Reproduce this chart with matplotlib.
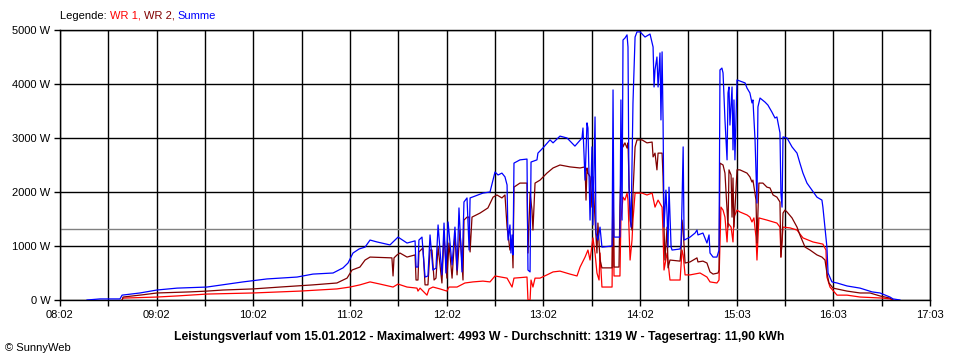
import matplotlib
matplotlib.use("Agg")
import matplotlib.pyplot as plt
import numpy as np

plt.rcParams['font.family'] = ['Liberation Sans', 'DejaVu Sans']

# time in minutes after 08:02, power in W
summe_t = [16.8, 24.9, 37.3, 38.6, 49.7, 60.3, 72.8, 91.4, 113.8, 128.7, 147.4, 157.3, 169.8, 176.0, 179.1,
           182.2, 186.0, 189.7, 192.8, 197.1, 205.2, 210.2, 215.8, 220.8, 221.4, 222.6, 223.2, 225.1, 227.0,
           228.8, 230.1, 231.9, 233.8, 235.1, 237.5, 238.8, 240.0, 241.3, 243.8, 245.6, 246.9, 248.1, 250.0,
           251.2, 253.1, 254.4, 255.0, 263.0, 267.4, 270.5, 272.4, 274.8, 276.7, 278.0, 278.6, 279.8, 280.4,
           281.1, 281.7, 282.3, 286.0, 290.4, 291.0, 292.3, 292.9, 296.6, 297.2, 300.3, 304.7, 306.6, 310.9,
           315.3, 320.2, 324.6, 325.2, 326.5, 327.7, 328.3, 329.6, 330.8, 331.4, 332.7, 333.3, 334.5, 335.8,
           337.0, 343.3, 343.9, 344.5, 348.2, 348.8, 349.5, 350.1, 351.3, 352.6, 353.2, 353.8, 355.1, 356.3,
           357.6, 358.8, 360.7, 363.8, 366.9, 368.8, 369.4, 370.0, 371.2, 371.9, 373.1, 373.7, 374.4, 375.0,
           375.6, 376.8, 377.5, 378.1, 378.7, 380.0, 380.6, 385.6, 386.2, 386.8, 387.5, 388.1, 391.8, 394.9,
           396.1, 396.7, 399.8, 402.3, 403.6, 404.2, 406.1, 408.5, 409.8, 410.4, 411.6, 412.3, 413.5, 414.8,
           415.4, 416.0, 416.6, 417.9, 418.5, 419.1, 419.7, 421.0, 426.0, 427.2, 429.0, 430.3, 430.9, 432.2,
           433.4, 434.0, 435.3, 438.4, 440.2, 442.7, 444.6, 445.8, 446.5, 447.7, 448.3, 449.0, 449.6, 452.1,
           455.2, 458.3, 460.1, 462.0, 464.5, 467.6, 470.7, 473.8, 474.4, 476.9, 477.6, 480.0, 483.2, 489.4,
           497.5, 505.0, 509.9, 516.1, 518.0, 522.3]
summe_w = [0, 20, 20, 90, 130, 185, 220, 240, 335, 390, 425, 480, 500, 595, 685,
           870, 945, 980, 1110, 1075, 1020, 1165, 1055, 1095, 610, 610, 1110, 1165, 425,
           445, 1205, 555, 590, 1390, 465, 1425, 500, 1445, 650, 1350, 555, 1705, 520,
           1815, 1890, 925, 1890, 1980, 2000, 2370, 2315, 2350, 2280, 2130, 1110, 1390, 870,
           1205, 835, 2535, 2595, 2610, 555, 520, 2555, 2595, 2720, 2815, 2965, 2910, 3035,
           3000, 2850, 3000, 3185, 2220, 3280, 3185, 1480, 2835, 1390, 3390, 1240, 1110, 1350,
           980, 1000, 3890, 1165, 1165, 3705, 1480, 4815, 4850, 4910, 4685, 2090, 1350, 3650,
           4870, 4965, 4965, 4870, 4925, 4685, 3945, 4260, 4500, 3945, 4575, 3335, 4595, 3335,
           1350, 2035, 1575, 980, 2090, 980, 925, 945, 1020, 1795, 2835, 1110, 1165, 1240,
           1295, 1205, 1240, 1055, 1205, 870, 795, 795, 925, 4260, 4295, 4205, 3335, 2595,
           3835, 3945, 3240, 3945, 2780, 3705, 2595, 4075, 4020, 3925, 3835, 3650, 3705, 2965,
           1795, 3575, 3740, 3665, 3610, 3480, 3370, 3390, 3280, 3095, 1980, 1720, 3020, 3000,
           2835, 2720, 2535, 2350, 2165, 2035, 1905, 1850, 1720, 980, 500, 335, 315, 260,
           220, 150, 130, 55, 20, 0]

wr2_t = [38.6, 39.2, 51.0, 60.3, 80.8, 91.4, 101.4, 120.0, 136.8, 157.3, 172.2, 178.5, 181.6, 186.5, 189.7,
         192.8, 205.2, 206.4, 207.1, 207.7, 209.6, 211.4, 215.8, 220.8, 221.4, 222.6, 223.2, 225.7, 227.0,
         228.8, 230.1, 231.3, 232.6, 233.8, 235.1, 237.5, 238.8, 240.6, 241.9, 243.8, 245.6, 246.9, 248.7,
         250.6, 251.2, 253.1, 254.4, 255.0, 256.2, 261.2, 266.1, 269.3, 271.7, 274.8, 276.7, 278.0, 279.8,
         281.1, 281.7, 282.3, 286.0, 290.4, 291.0, 292.3, 293.5, 294.1, 295.4, 298.5, 302.8, 306.6, 310.9,
         317.1, 323.4, 326.5, 327.1, 327.7, 328.3, 329.6, 330.8, 331.4, 332.7, 333.9, 334.5, 335.8, 337.0,
         343.3, 343.9, 344.5, 347.6, 348.2, 349.5, 350.1, 351.3, 352.6, 353.2, 354.5, 355.7, 356.3, 357.6,
         358.8, 361.9, 365.0, 368.2, 368.8, 370.0, 371.2, 371.9, 374.4, 375.0, 375.6, 376.2, 377.5, 378.1,
         379.3, 385.6, 386.2, 386.8, 387.5, 388.7, 391.8, 396.1, 396.7, 399.8, 402.3, 404.2, 406.1, 409.2,
         409.8, 410.4, 412.3, 413.5, 414.8, 415.4, 416.0, 417.3, 417.9, 418.5, 419.1, 421.0, 422.8, 427.2,
         429.0, 430.3, 430.9, 432.8, 433.4, 434.6, 437.1, 439.6, 441.5, 443.4, 445.8, 447.7, 448.3, 449.0,
         449.6, 450.8, 452.1, 455.2, 458.3, 460.1, 463.3, 466.4, 470.7, 473.8, 475.7, 476.9, 478.2, 480.7,
         489.4, 497.5, 503.7, 509.9, 516.1, 518.0]
wr2_w = [0, 55, 95, 130, 150, 165, 185, 205, 240, 280, 315, 405, 555, 610, 740,
         795, 780, 780, 445, 780, 835, 870, 795, 835, 370, 370, 890, 965, 280,
         280, 925, 925, 370, 405, 980, 315, 1205, 405, 1055, 405, 1240, 465, 1295,
         370, 1480, 1535, 1535, 890, 1535, 1610, 1705, 1905, 1945, 1890, 1945, 1350, 925,
         1110, 595, 2090, 2165, 2165, 870, 1980, 1665, 1295, 2165, 2220, 2350, 2445, 2500,
         2465, 2445, 2465, 1850, 2445, 2350, 2280, 1720, 2280, 1480, 870, 1425, 740, 595,
         595, 2280, 610, 610, 1720, 2965, 2835, 2910, 2815, 2910, 1480, 1295, 1980, 2835,
         2965, 2965, 2910, 2925, 2650, 2720, 2410, 2720, 2720, 2280, 1350, 740, 1350, 595,
         740, 720, 925, 1480, 1295, 685, 705, 780, 705, 720, 685, 520, 480, 500,
         555, 2535, 2500, 2350, 1665, 1350, 2410, 2315, 1535, 2260, 1350, 2410, 2410, 2350,
         2280, 2185, 2220, 1850, 1055, 2165, 2165, 2090, 2075, 1945, 1905, 1815, 795, 1110,
         1610, 1665, 1630, 1520, 1350, 1205, 980, 925, 835, 795, 740, 500, 315, 220,
         165, 130, 130, 75, 35, 0]

wr1_t = [38.6, 39.2, 60.3, 72.8, 91.4, 120.0, 149.2, 172.2, 180.3, 186.5, 192.8, 199.0, 207.1, 210.2, 215.8,
         222.0, 222.6, 223.9, 228.2, 229.5, 231.9, 236.3, 240.6, 241.9, 246.9, 251.8, 256.8, 263.0, 267.4,
         270.5, 278.0, 281.1, 282.3, 290.4, 291.0, 292.3, 292.9, 294.1, 295.4, 298.5, 302.8, 306.6, 310.9,
         317.1, 321.5, 323.4, 326.5, 328.3, 329.6, 331.4, 332.7, 333.9, 335.2, 335.8, 337.0, 343.3, 343.9,
         344.5, 348.2, 348.8, 350.1, 351.3, 352.6, 353.2, 354.5, 355.7, 356.3, 357.6, 361.9, 365.0, 368.2,
         370.0, 371.9, 374.4, 375.0, 375.6, 377.5, 379.3, 385.6, 386.8, 387.5, 388.7, 391.8, 398.0, 402.3,
         404.2, 408.5, 409.8, 411.0, 412.3, 413.5, 414.8, 415.4, 417.3, 418.5, 419.1, 421.0, 422.8, 427.2,
         429.0, 430.3, 431.5, 432.8, 433.4, 434.6, 439.6, 445.8, 447.7, 448.3, 449.6, 454.0, 458.3, 462.0,
         468.2, 474.4, 476.3, 476.9, 478.8, 483.2, 489.4, 497.5, 511.8, 516.1, 518.0]
wr1_w = [0, 35, 55, 75, 110, 130, 165, 205, 240, 280, 335, 295, 240, 295, 240,
         220, 165, 220, 90, 205, 240, 205, 165, 240, 240, 315, 335, 350, 335,
         445, 405, 240, 405, 425, 0, 0, 370, 240, 405, 405, 465, 520, 535,
         480, 445, 610, 795, 925, 740, 1150, 870, 500, 370, 870, 240, 240, 2280,
         445, 445, 1480, 1905, 1850, 1980, 1850, 740, 1110, 1480, 1980, 1980, 1945, 1980,
         1720, 1850, 1720, 1240, 555, 870, 370, 370, 925, 835, 465, 465, 500, 425,
         335, 315, 370, 1720, 1665, 1535, 1075, 1425, 1350, 1075, 1535, 1665, 1630, 1575,
         1535, 1445, 1520, 1165, 740, 1520, 1480, 1425, 1350, 795, 1350, 1335, 1295, 1150,
         1075, 1035, 925, 425, 240, 90, 90, 55, 35, 20, 0]

average_w = 1319
tick_labels = ["08:02", "09:02", "10:02", "11:02", "12:02", "13:02", "14:02", "15:03", "16:03", "17:03"]
y_labels = ["0 W", "1000 W", "2000 W", "3000 W", "4000 W", "5000 W"]
title = ("Leistungsverlauf vom 15.01.2012 - Maximalwert: 4993 W - Durchschnitt: 1319 W - "
         "Tagesertrag: 11,90 kWh")

W, H = 960, 360
fig = plt.figure(figsize=(9.6, 3.6), dpi=100)
ax = fig.add_axes([60 / W, 1 - 300 / H, 870 / W, 270 / H])
span = 541
ax.set_xlim(0, span)
ax.set_ylim(0, 5000)

grid_x = np.linspace(0, span, 19)
for gx in grid_x:
    ax.axvline(gx, color='black', lw=1.0, zorder=1)
for gy in range(0, 5001, 1000):
    ax.axhline(gy, color='black', lw=1.0, zorder=1)
ax.axhline(average_w, color='#808080', lw=1.0, zorder=2)

ax.plot(wr1_t, wr1_w, color='#ff0000', lw=0.9, zorder=3)
ax.plot(wr2_t, wr2_w, color='#800000', lw=0.9, zorder=4)
ax.plot(summe_t, summe_w, color='#0000ff', lw=0.9, zorder=5)

for s in ax.spines.values():
    s.set_color('black')
    s.set_linewidth(1.0)

ax.set_xticks(grid_x)
ax.set_xticklabels([tick_labels[i // 2] if i % 2 == 0 else "" for i in range(19)])
ax.set_yticks(range(0, 5001, 1000))
ax.set_yticklabels(y_labels)
ax.tick_params(axis='both', length=4, width=1.0, color='black', labelsize=8, pad=3)

fig.text(0.5 * (175 + 783) / W, 1 - 337 / H, title, ha='center', va='center',
         fontsize=8.8, fontweight='bold')
fig.text(5 / W, 1 - 348 / H, "\u00a9 SunnyWeb", ha='left', va='center', fontsize=8)

t1 = fig.text(60 / W, 1 - 16 / H, "Legende: ", ha='left', va='center', fontsize=8, color='black')
t2 = fig.text(0, 0, "WR 1, ", fontsize=8, color='#ff0000')
t3 = fig.text(0, 0, "WR 2, ", fontsize=8, color='#800000')
t4 = fig.text(0, 0, "Summe", fontsize=8, color='#0000ff')
fig.canvas.draw()
r = fig.canvas.get_renderer()
prev = t1
for t in (t2, t3, t4):
    bb = prev.get_window_extent(r)
    t.set_position((bb.x1 / (W), (bb.y0 + bb.y1) / 2 / H))
    t.set_va('center')
    t.set_ha('left')
    fig.canvas.draw()
    prev = t

fig.savefig("out.png", dpi=100)
